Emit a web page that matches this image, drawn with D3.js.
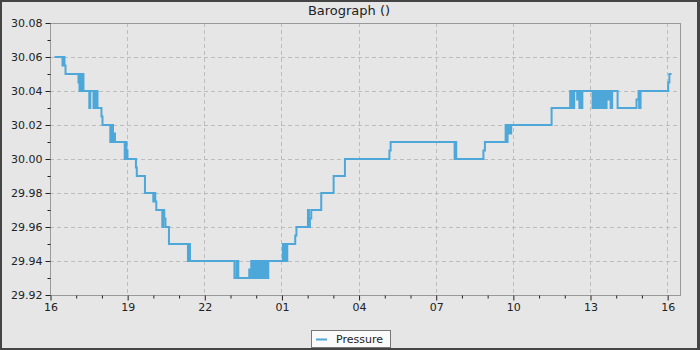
<!DOCTYPE html>
<html>
<head>
<meta charset="utf-8">
<script src="https://cdn.jsdelivr.net/npm/d3@7"></script>
<style>
  html, body { margin: 0; padding: 0; background: #e6e6e6; }
  svg { display: block; }
  text { font-family: "DejaVu Sans", sans-serif; fill: #222; }
</style>
</head>
<body>
<svg id="chart" width="700" height="350"></svg>
<script>
// ---- data ----
const title = "Barograph ()";
const seriesName = "Pressure";
const startTime = "2024-01-01T16:00:00";
const endOffsetMin = 1470;            // axis end, minutes after start
const xTickLabels = ["16", "19", "22", "01", "04", "07", "10", "13", "16"];
// minutes after 16:00 at which each reading begins (step-after)
const offsetsMin = [
  10.5, 29.2, 31.5, 33.8, 36.2, 66.5, 68.8, 71.2, 73.5, 75.8, 78.1,
  91.7, 94.0, 101.5, 103.8, 106.1, 108.5, 110.8, 120.1, 122.5,
  140.7, 143.5, 147.0, 149.3, 151.6, 174.3, 176.1, 178.5, 180.8,
  200.6, 202.5, 221.6, 241.0, 243.3, 245.6, 248.0, 262.0, 264.3, 266.6, 269.4,
  277.6, 321.9, 324.3, 326.6, 430.4, 435.5, 439.3,
  464.9, 467.7, 469.6, 472.4, 475.9, 478.2, 482.2, 484.5, 486.9, 489.2,
  491.5, 493.9, 496.2, 498.5, 500.9, 505.5, 509.3,
  543.5, 545.9, 548.2, 550.5, 553.6, 572.2, 575.0,
  601.9, 604.2, 606.5, 609.6, 632.9, 661.8, 688.2, 792.0, 794.8,
  944.1, 946.0, 947.8, 1011.3, 1014.8,
  1063.1, 1065.4, 1067.7, 1070.1, 1072.4, 1074.3, 1076.1, 1170.4,
  1213.8, 1216.1, 1218.4, 1220.8, 1223.1, 1230.1, 1232.9, 1235.2, 1237.6, 1239.9, 1242.2,
  1266.0, 1270.7, 1273.0, 1275.4, 1277.7, 1280.0, 1282.4, 1284.7, 1287.0, 1289.4,
  1291.7, 1294.0, 1296.4, 1298.7, 1301.0, 1304.0, 1308.0, 1311.7, 1324.4,
  1368.6, 1373.3, 1374.7, 1378.0, 1442.4, 1445.2, 1450.3
];
const pressure = [
  30.06, 30.055, 30.06, 30.055, 30.05, 30.045, 30.04, 30.05, 30.04, 30.05, 30.04,
  30.03, 30.04, 30.03, 30.04, 30.03, 30.04, 30.03, 30.025, 30.02,
  30.01, 30.02, 30.01, 30.015, 30.01, 30.00, 30.01, 30.005, 30.00,
  29.995, 29.99, 29.98, 29.975, 29.98, 29.975, 29.97, 29.96, 29.97, 29.965, 29.96,
  29.95, 29.94, 29.95, 29.94, 29.93, 29.94, 29.93,
  29.935, 29.93, 29.94, 29.93, 29.94, 29.93, 29.94, 29.93, 29.94, 29.93,
  29.94, 29.93, 29.94, 29.93, 29.94, 29.93, 29.94,
  29.95, 29.94, 29.95, 29.94, 29.95, 29.955, 29.96,
  29.97, 29.96, 29.965, 29.97, 29.98, 29.99, 30.00, 30.005, 30.01,
  30.00, 30.01, 30.00, 30.005, 30.01,
  30.02, 30.01, 30.02, 30.015, 30.02, 30.015, 30.02, 30.03,
  30.04, 30.03, 30.04, 30.03, 30.04, 30.035, 30.04, 30.03, 30.04, 30.03, 30.04,
  30.03, 30.04, 30.03, 30.04, 30.03, 30.04, 30.03, 30.04, 30.03, 30.04,
  30.03, 30.04, 30.03, 30.04, 30.035, 30.04, 30.03, 30.04, 30.03,
  30.035, 30.04, 30.03, 30.04, 30.045, 30.05, 30.05
];
const yMajorTicks = [29.92, 29.94, 29.96, 29.98, 30.00, 30.02, 30.04, 30.06, 30.08];
const yMinorTicks = [29.93, 29.95, 29.97, 29.99, 30.01, 30.03, 30.05, 30.07];

// ---- layout ----
const W = 700, H = 350;
const margin = { left: 50, right: 20, top: 23, bottom: 55 };
const pw = W - margin.left - margin.right;
const ph = H - margin.top - margin.bottom;
const lineColor = "#4da8d9";

const svg = d3.select("#chart");
// outer frame
svg.append("rect").attr("x", 0).attr("y", 0).attr("width", W).attr("height", H).attr("fill", "#454545");
svg.append("rect").attr("x", 2).attr("y", 2).attr("width", W - 5).attr("height", H - 4).attr("fill", "#e6e6e6");

const t0 = new Date(startTime);
const toDate = m => new Date(t0.getTime() + m * 60000);
const data = offsetsMin.map((m, i) => ({ t: toDate(m), v: pressure[i] }));

const x = d3.scaleTime().domain([t0, toDate(endOffsetMin)]).range([0, pw]);
const y = d3.scaleLinear().domain([29.92, 30.08]).range([ph, 0]);

const g = svg.append("g").attr("transform", `translate(${margin.left},${margin.top})`);

// ticks every 3 h (major) and every hour (minor) counted from the start
const xMajor = xTickLabels.map((_, i) => toDate(i * 180));
const xMinor = d3.range(0, 25).filter(h => h % 3 !== 0).map(h => toDate(h * 60));

// grid
g.append("g").selectAll("line").data(xMajor.filter(d => x(d) > 1)).join("line")
  .attr("x1", d => Math.round(x(d)) + 0.5).attr("x2", d => Math.round(x(d)) + 0.5)
  .attr("y1", 0).attr("y2", ph)
  .attr("stroke", "#bdbdbd").attr("stroke-dasharray", "4,3");
g.append("g").selectAll("line").data(yMajorTicks.filter(d => d > 29.921 && d < 30.079)).join("line")
  .attr("x1", 0).attr("x2", pw)
  .attr("y1", d => Math.round(y(d)) + 0.5).attr("y2", d => Math.round(y(d)) + 0.5)
  .attr("stroke", "#bdbdbd").attr("stroke-dasharray", "4,3");

// frame
g.append("rect").attr("x", 0.5).attr("y", 0.5).attr("width", pw).attr("height", ph)
  .attr("fill", "none").attr("stroke", "#999");

// y axis
const yAxis = d3.axisLeft(y).tickValues(yMajorTicks).tickFormat(d3.format(".2f")).tickSize(5).tickPadding(3);
const ya = g.append("g").attr("transform", "translate(0.5,0)").call(yAxis);
ya.select(".domain").remove();
ya.selectAll("text").attr("font-size", 11).style("font-family", "DejaVu Sans").attr("fill", "#222");
ya.selectAll("line").attr("stroke", "#222");
const yMin = d3.axisLeft(y).tickValues(yMinorTicks).tickFormat("").tickSize(3);
const ym = g.append("g").attr("transform", "translate(0.5,0)").call(yMin);
ym.select(".domain").remove();
ym.selectAll("line").attr("stroke", "#222");

// x axis
const xAxis = d3.axisBottom(x).tickValues(xMajor).tickFormat((d, i) => xTickLabels[i]).tickSize(5).tickPadding(3);
const xa = g.append("g").attr("transform", `translate(0.5,${ph + 0.5})`).call(xAxis);
xa.select(".domain").remove();
xa.selectAll("text").attr("font-size", 11).style("font-family", "DejaVu Sans").attr("fill", "#222");
xa.selectAll("line").attr("stroke", "#222");
const xMinAxis = d3.axisBottom(x).tickValues(xMinor).tickFormat("").tickSize(3);
const xm = g.append("g").attr("transform", `translate(0.5,${ph + 0.5})`).call(xMinAxis);
xm.select(".domain").remove();
xm.selectAll("line").attr("stroke", "#222");

// line
const line = d3.line().x(d => x(d.t)).y(d => y(d.v)).curve(d3.curveStepAfter);
g.append("path").datum(data).attr("d", line)
  .attr("fill", "none").attr("stroke", lineColor).attr("stroke-width", 2);

// title
svg.append("text").attr("x", 349).attr("y", 15).attr("text-anchor", "middle")
  .attr("font-size", 13).text(title);

// legend
const lg = svg.append("g").attr("transform", "translate(311,330)");
lg.append("rect").attr("x", 0.5).attr("y", 0.5).attr("width", 79).attr("height", 17)
  .attr("fill", "#fafafa").attr("stroke", "#777");
lg.append("line").attr("x1", 5).attr("x2", 16).attr("y1", 9.5).attr("y2", 9.5)
  .attr("stroke", lineColor).attr("stroke-width", 2);
lg.append("text").attr("x", 25).attr("y", 13).attr("font-size", 11).text(seriesName);
</script>
</body>
</html>
